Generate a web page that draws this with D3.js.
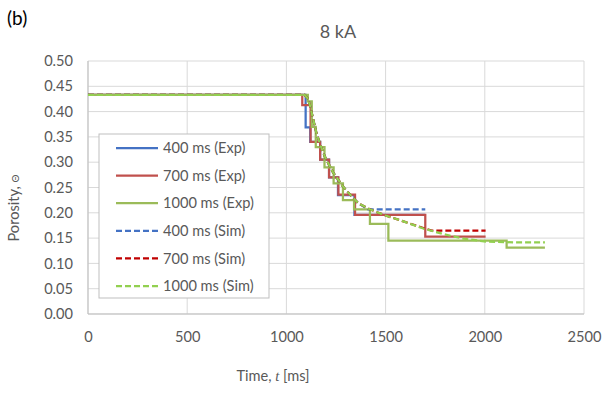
<!DOCTYPE html>
<html>
<head>
<meta charset="utf-8">
<script src="https://cdn.jsdelivr.net/npm/d3@7"></script>
<style>
  body { margin: 0; background: #fff; }
  text { font-family: Lato, "Open Sans", sans-serif; }
</style>
</head>
<body>
<svg id="chart"></svg>
<script>
// ---- data (time ms, porosity) ----
const exp400 = [[0, 0.433], [1097, 0.433], [1097, 0.369], [1120, 0.369], [1120, 0.34], [1170, 0.34], [1170, 0.305],
  [1215, 0.305], [1215, 0.27], [1260, 0.27], [1260, 0.235], [1343, 0.235], [1343, 0.196], [1700, 0.196]];
const exp700 = [[0, 0.433], [1080, 0.433], [1080, 0.413], [1122, 0.413], [1122, 0.34], [1170, 0.34], [1170, 0.305],
  [1215, 0.305], [1215, 0.27], [1262, 0.27], [1262, 0.236], [1346, 0.236], [1346, 0.196], [1700, 0.196],
  [1700, 0.153], [2004, 0.153]];
const exp1000 = [[0, 0.433], [1108, 0.433], [1108, 0.42], [1128, 0.42], [1128, 0.37], [1148, 0.37], [1148, 0.33],
  [1192, 0.33], [1192, 0.29], [1238, 0.29], [1238, 0.258], [1285, 0.258], [1285, 0.225], [1341, 0.225],
  [1341, 0.207], [1421, 0.207], [1421, 0.178], [1514, 0.178], [1514, 0.145], [2110, 0.145], [2110, 0.131],
  [2303, 0.131]];
const sim400 = [[0, 0.433], [1092, 0.433], [1110, 0.425], [1120, 0.41], [1135, 0.385], [1150, 0.36], [1170, 0.335],
  [1195, 0.31], [1235, 0.28], [1285, 0.252], [1330, 0.232], [1362, 0.219], [1411, 0.207], [1700, 0.207]];
const sim700 = [[0, 0.433], [1092, 0.433], [1110, 0.425], [1120, 0.41], [1135, 0.385], [1150, 0.36], [1170, 0.335],
  [1195, 0.31], [1235, 0.28], [1285, 0.252], [1330, 0.232], [1362, 0.219], [1420, 0.207], [1490, 0.196],
  [1590, 0.183], [1690, 0.17], [1732, 0.165], [2004, 0.165]];
const sim1000 = [[0, 0.433], [1092, 0.433], [1110, 0.425], [1120, 0.41], [1135, 0.385], [1150, 0.36], [1170, 0.335],
  [1195, 0.31], [1235, 0.28], [1285, 0.252], [1330, 0.232], [1362, 0.219], [1420, 0.207], [1490, 0.196],
  [1590, 0.183], [1690, 0.169], [1790, 0.158], [1892, 0.149], [2009, 0.143], [2150, 0.1415], [2303, 0.1417]];

const seriesNames = ["400 ms (Exp)", "700 ms (Exp)", "1000 ms (Exp)", "400 ms (Sim)", "700 ms (Sim)", "1000 ms (Sim)"];
const seriesData = [exp400, exp700, exp1000, sim400, sim700, sim1000];
const seriesColors = ["#4472C4", "#C0504D", "#9BBB59", "#4472C4", "#C00000", "#92D050"];
const seriesDashed = [false, false, false, true, true, true];

const xTicks = [0, 500, 1000, 1500, 2000, 2500];
const yTicks = d3.range(0, 0.501, 0.05);

const W = 602, H = 394;
const margin = { top: 61, right: 18, bottom: 80, left: 88 };
const width = W - margin.left - margin.right;
const height = H - margin.top - margin.bottom;
const labelSize = 14.6;

const svg = d3.select("#chart").attr("width", W).attr("height", H);
const chart = svg.append("g").attr("transform", `translate(${margin.left},${margin.top})`);

const x = d3.scaleLinear().domain([0, 2500]).range([0, width]);
const y = d3.scaleLinear().domain([0, 0.5]).range([height, 0]);

// gridlines
chart.append("g").selectAll("line").data(yTicks).join("line")
  .attr("x1", 0).attr("x2", width)
  .attr("y1", (d) => y(d)).attr("y2", (d) => y(d))
  .attr("stroke", "#d9d9d9").attr("stroke-width", 1);
chart.append("g").selectAll("line").data(xTicks).join("line")
  .attr("x1", (d) => x(d)).attr("x2", (d) => x(d))
  .attr("y1", 0).attr("y2", height)
  .attr("stroke", "#d9d9d9").attr("stroke-width", 1);
// axis lines
chart.append("line").attr("x1", 0).attr("x2", 0).attr("y1", 0).attr("y2", height)
  .attr("stroke", "#bfbfbf");
chart.append("line").attr("x1", 0).attr("x2", width).attr("y1", height).attr("y2", height)
  .attr("stroke", "#bfbfbf");

// axes (labels only)
const yAxis = chart.append("g")
  .call(d3.axisLeft(y).tickValues(yTicks).tickFormat(d3.format(".2f")).tickSize(0).tickPadding(15));
const xAxis = chart.append("g").attr("transform", `translate(0,${height})`)
  .call(d3.axisBottom(x).tickValues(xTicks).tickFormat(d3.format("d")).tickSize(0).tickPadding(18));
[yAxis, xAxis].forEach((a) => {
  a.select(".domain").remove();
  a.selectAll("text").attr("font-size", labelSize).attr("fill", "#595959")
    .style("font-family", "Lato, 'Open Sans', sans-serif");
});

// lines
const line = d3.line().x((d) => x(d[0])).y((d) => y(d[1]));
seriesData.forEach((data, i) => {
  chart.append("path")
    .datum(data)
    .attr("d", line)
    .attr("fill", "none")
    .attr("stroke", seriesColors[i])
    .attr("stroke-width", 2.25)
    .attr("stroke-dasharray", seriesDashed[i] ? "6,3" : null);
});

// legend
const legend = svg.append("g").attr("transform", "translate(99,134)");
legend.append("rect").attr("width", 170).attr("height", 164)
  .attr("fill", "#fff").attr("stroke", "#bfbfbf").attr("stroke-width", 1);
seriesNames.forEach((name, i) => {
  const ly = 14 + i * 27.6;
  legend.append("line")
    .attr("x1", 17).attr("x2", 59).attr("y1", ly).attr("y2", ly)
    .attr("stroke", seriesColors[i]).attr("stroke-width", 2.25)
    .attr("stroke-dasharray", seriesDashed[i] ? "6,3" : null);
  legend.append("text").attr("x", 64).attr("y", ly).attr("dy", "0.35em")
    .attr("font-size", labelSize).attr("fill", "#595959").text(name);
});

// titles
svg.append("text").attr("x", 338).attr("y", 38).attr("text-anchor", "middle")
  .attr("font-size", 18).attr("fill", "#595959").text("8 kA");
svg.append("text").attr("x", 7).attr("y", 25)
  .attr("font-size", 19).attr("fill", "#000").text("(b)");

const xt = svg.append("text").attr("x", 273).attr("y", 381).attr("text-anchor", "middle")
  .attr("font-size", labelSize).attr("fill", "#595959");
xt.append("tspan").text("Time, ");
xt.append("tspan").attr("font-style", "italic").attr("font-family", "'Liberation Serif', serif").text("t");
xt.append("tspan").text(" [ms]");

const yt = svg.append("text").attr("transform", "translate(19,208) rotate(-90)").attr("text-anchor", "middle")
  .attr("font-size", labelSize).attr("fill", "#595959");
yt.append("tspan").text("Porosity, ");
yt.append("tspan").attr("font-size", 10).text("Θ");
</script>
</body>
</html>
